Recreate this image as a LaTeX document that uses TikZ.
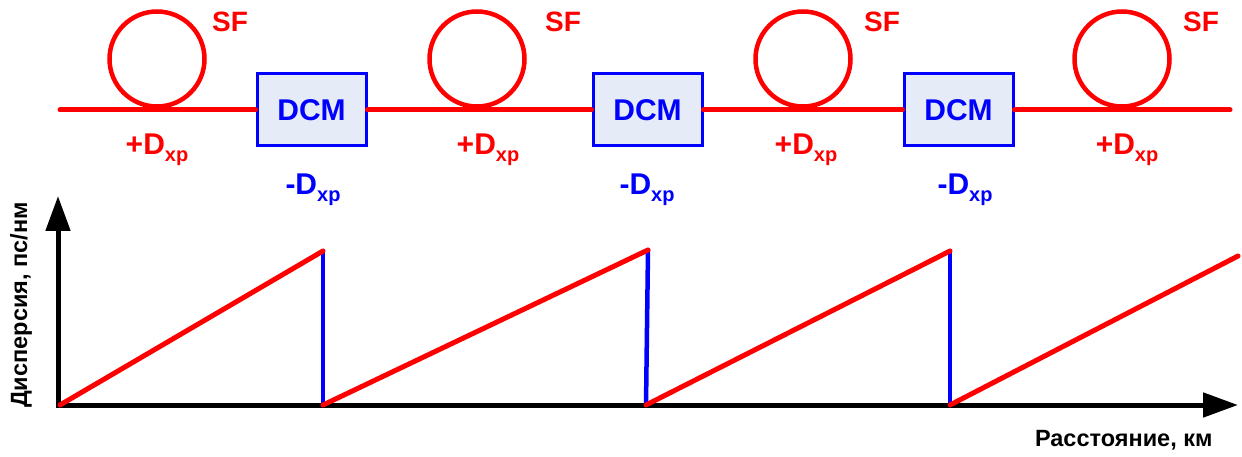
\documentclass[tikz,border=0pt]{standalone}
\usepackage{fontspec}
\setmainfont{Liberation Sans}
\usetikzlibrary{arrows.meta}
\definecolor{fred}{RGB}{255,0,0}
\definecolor{fblue}{RGB}{0,0,255}
\definecolor{boxfill}{RGB}{230,236,247}
\newcommand{\Dxp}[1]{#1D\raisebox{-0.25em}{\fontsize{20}{22}\selectfont xp}}
\begin{document}
\begin{tikzpicture}[x=1pt,y=-1pt,
  fiber/.style={draw=fred,line width=5pt,line cap=round},
  loopc/.style={circle,draw=fred,line width=4.5pt,minimum size=95pt,inner sep=0pt},
  dcmbox/.style={draw=fblue,line width=3pt,fill=boxfill,minimum width=109pt,minimum height=72pt,inner sep=0pt,font=\fontsize{30}{32}\selectfont\bfseries,text=fblue},
  sflab/.style={font=\fontsize{28}{30}\selectfont\bfseries,text=fred},
  plab/.style={font=\fontsize{30}{32}\selectfont\bfseries,text=fred},
  mlab/.style={font=\fontsize{30}{32}\selectfont\bfseries,text=fblue},
  axis/.style={draw=black,line width=5pt,-{Triangle[length=35pt,width=24pt]}},
  up/.style={draw=fred,line width=5pt,line cap=round},
  down/.style={draw=fblue,line width=4.5pt,line cap=round},
  axlab/.style={font=\fontsize{23.5}{26}\selectfont\bfseries,text=black}]
\useasboundingbox (0,0) rectangle (1242,457);
% top fiber line
\coordinate (ls) at (60,110);
\coordinate (le) at (1230,110);
\node[dcmbox] (d1) at (311.5,110) {DCM};
\node[dcmbox] (d2) at (647.5,110) {DCM};
\node[dcmbox] (d3) at (958.5,110) {DCM};
\draw[fiber] (ls) -- (d1.west);
\draw[fiber] (d1.east) -- (d2.west);
\draw[fiber] (d2.east) -- (d3.west);
\draw[fiber] (d3.east) -- (le);
\node[loopc] (c1) at (157,59) {};
\node[loopc] (c2) at (477,59) {};
\node[loopc] (c3) at (803,59) {};
\node[loopc] (c4) at (1122,59) {};
\node[sflab] (s1) at (230,22) {SF};
\node[sflab] (s2) at (563,22) {SF};
\node[sflab] (s3) at (882,22) {SF};
\node[sflab] (s4) at (1201,22) {SF};
\node[plab] (p1) at (157,150) {\Dxp{+}};
\node[plab] (p2) at (488,150) {\Dxp{+}};
\node[plab] (p3) at (806,150) {\Dxp{+}};
\node[plab] (p4) at (1127,150) {\Dxp{+}};
\node[mlab] (m1) at (313,190) {\Dxp{-}};
\node[mlab] (m2) at (647,190) {\Dxp{-}};
\node[mlab] (m3) at (965,190) {\Dxp{-}};
% plot
\coordinate (o) at (58,405);
\coordinate (yt) at (58,196);
\coordinate (xt) at (1238,405);
\draw[axis] (o) -- (yt);
\draw[axis] (56,405) -- (xt);
\coordinate (a0) at (60,405);
\coordinate (a1) at (323,251);
\coordinate (b0) at (323,405);
\coordinate (b1) at (648,250);
\coordinate (c0) at (646,405);
\coordinate (c1p) at (950,251);
\coordinate (e0) at (950,405);
\coordinate (e1) at (1238,256);
\draw[down] (a1) -- (b0);
\draw[down] (b1) -- (c0);
\draw[down] (c1p) -- (e0);
\draw[up] (a0) -- (a1);
\draw[up] (b0) -- (b1);
\draw[up] (c0) -- (c1p);
\draw[up] (e0) -- (e1);
\node[axlab,rotate=90] (yl) at (21,305) {Дисперсия, пс/нм};
\node[axlab,anchor=east] (xl) at (1216,440) {Расстояние, км};
\end{tikzpicture}
\end{document}
